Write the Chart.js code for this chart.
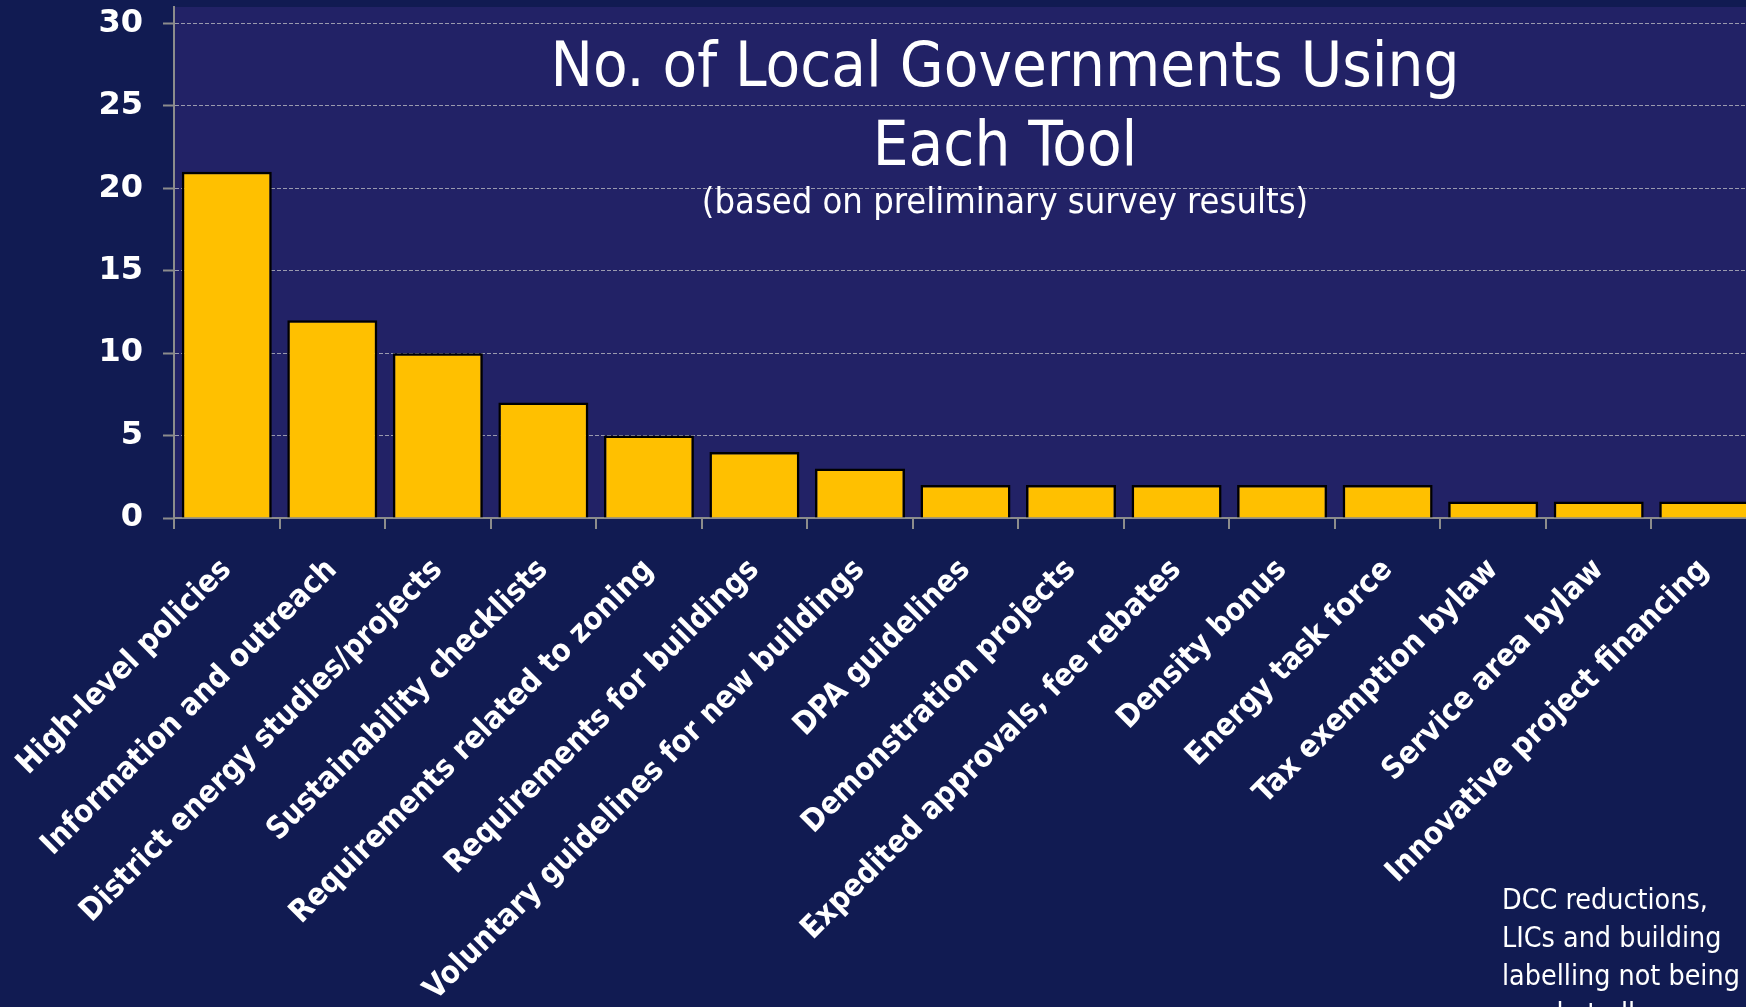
<!DOCTYPE html>
<html>
<head>
<meta charset="utf-8">
<script src="https://cdn.jsdelivr.net/npm/chart.js@4"></script>
<style>
  html, body { margin: 0; padding: 0; background: #111b52; overflow: hidden; width: 1746px; height: 1007px; }
  #wrap { position: relative; width: 1746px; height: 1007px; overflow: hidden; }
  canvas { position: absolute; left: 0; top: 0; }
  .txt { position: absolute; color: #ffffff; font-family: "DejaVu Sans Condensed", "DejaVu Sans", sans-serif; white-space: nowrap; pointer-events: none; }
  .titulo { font-size: 63px; line-height: 63px; width: 1200px; left: 405px; text-align: center; }
  .sub { font-size: 36px; line-height: 36px; width: 1200px; left: 405px; text-align: center; top: 183px; }
  .nota { font-size: 28.4px; line-height: 38px; left: 1502px; top: 881px; }
</style>
</head>
<body>
<div id="wrap">
  <canvas id="barChart" width="1757" height="1007"></canvas>
  <div class="txt titulo" style="top:33px">No. of Local Governments Using</div>
  <div class="txt titulo" style="top:112px">Each Tool</div>
  <div class="txt sub">(based on preliminary survey results)</div>
  <div class="txt nota">DCC reductions,<br>LICs and building<br>labelling not being<br>used at all</div>
</div>
<script>
// datos de la grafica
const herramientas = [
  "High-level policies",
  "Information and outreach",
  "District energy studies/projects",
  "Sustainability checklists",
  "Requirements related to zoning",
  "Requirements for buildings",
  "Voluntary guidelines for new buildings",
  "DPA guidelines",
  "Demonstration projects",
  "Expedited approvals, fee rebates",
  "Density bonus",
  "Energy task force",
  "Tax exemption bylaw",
  "Service area bylaw",
  "Innovative project financing"
];
const numGobiernos = [21, 12, 10, 7, 5, 4, 3, 2, 2, 2, 2, 2, 1, 1, 1];
const marcasY = [0, 5, 10, 15, 20, 25, 30];

const colorFondo = "#111b52";
const colorArea = "#222266";
const colorEje = "#8c8c8c";
const colorRejilla = "#9a9aae";

// fondo de la pagina y del area de la grafica
const fondoPlugin = {
  id: "fondo",
  beforeDraw: function(chart) {
    var ctx = chart.ctx;
    var a = chart.chartArea;
    ctx.save();
    ctx.fillStyle = colorFondo;
    ctx.fillRect(0, 0, chart.width, chart.height);
    ctx.fillStyle = colorArea;
    ctx.fillRect(a.left, a.top, a.right - a.left, a.bottom - a.top);
    ctx.restore();
  }
};

var ctx = document.getElementById("barChart").getContext("2d");
var miGrafica = new Chart(ctx, {
  type: "bar",
  data: {
    labels: herramientas,
    datasets: [{
      label: "No. of Local Governments",
      data: numGobiernos,
      backgroundColor: "#ffc000",
      borderColor: "#000000",
      borderWidth: 2.5,
      barPercentage: 0.853,
      categoryPercentage: 1.0
    }]
  },
  options: {
    responsive: false,
    animation: false,
    devicePixelRatio: 1,
    layout: { padding: { top: 7, left: 0, right: 0, bottom: 0 } },
    plugins: {
      legend: { display: false },
      tooltip: { enabled: false },
      title: { display: false }
    },
    scales: {
      x: {
        afterFit: function(scale) {
          scale.height = 489;
          scale.paddingLeft = 0;
          scale.paddingRight = 0;
        },
        grid: {
          display: true,
          drawOnChartArea: false,
          offset: true,
          color: colorEje,
          tickColor: colorEje,
          tickLength: 11,
          lineWidth: 2
        },
        border: { display: true, color: colorEje, width: 2 },
        ticks: {
          autoSkip: false,
          minRotation: 45,
          maxRotation: 45,
          padding: 23,
          color: "#ffffff",
          font: { family: "'DejaVu Sans Condensed', 'DejaVu Sans'", size: 31, weight: "bold" }
        }
      },
      y: {
        min: 0,
        max: 31,
        afterFit: function(scale) {
          scale.width = 174;
          scale.paddingTop = 0;
          scale.paddingBottom = 0;
        },
        afterBuildTicks: function(scale) {
          scale.ticks = marcasY.map(function(v) { return { value: v }; });
        },
        grid: {
          color: colorRejilla,
          lineWidth: 1,
          tickColor: colorEje,
          tickLength: 11,
          tickWidth: 2,
          tickBorderDash: []
        },
        border: { display: true, color: colorEje, width: 2, dash: [4, 2] },
        ticks: {
          padding: 20,
          color: "#ffffff",
          font: { family: "'DejaVu Sans'", size: 32, weight: "bold" }
        }
      }
    }
  },
  plugins: [fondoPlugin]
});
</script>
</body>
</html>
